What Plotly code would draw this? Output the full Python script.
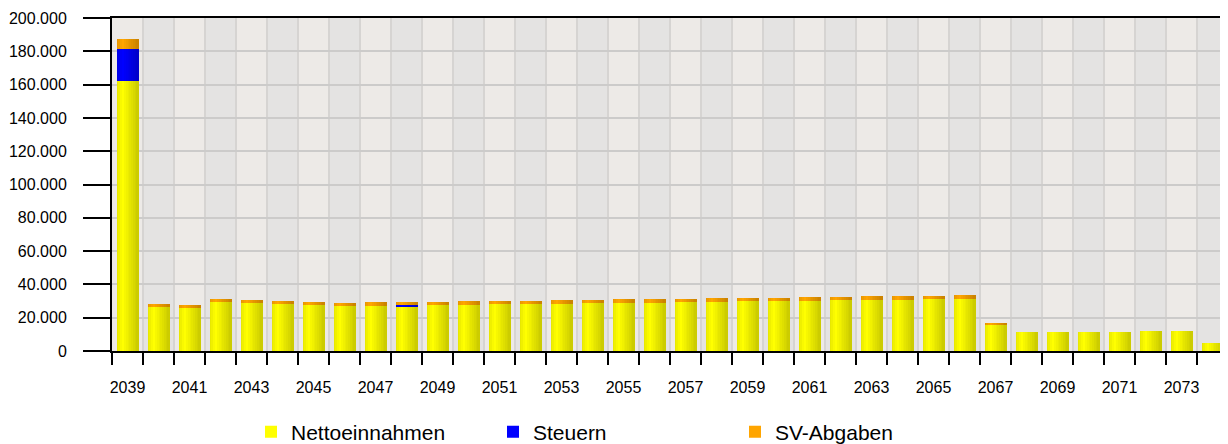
import plotly.graph_objects as go

years = list(range(2039, 2075))
netto = [162.2, 26.4, 25.8, 29.4, 28.8, 28.2, 27.6, 27.0, 27.0, 27.0, 27.6, 27.6,
         28.2, 28.2, 28.2, 28.8, 28.8, 28.8, 29.4, 29.4, 30.0, 30.0, 30.0, 30.6,
         30.6, 30.6, 31.2, 31.2, 15.6, 11.4, 11.4, 11.4, 11.4, 12.0, 12.0, 4.8]
steuern = [19.2, 0, 0, 0, 0, 0, 0, 0, 0, 0.5, 0, 0,
           0, 0, 0, 0, 0, 0, 0, 0, 0, 0, 0, 0,
           0, 0, 0, 0, 0, 0, 0, 0, 0, 0, 0, 0]
sv = [6.0, 1.8, 1.8, 1.8, 1.8, 1.8, 1.8, 1.8, 2.4, 1.9, 1.8, 2.4,
      1.8, 1.8, 2.4, 1.8, 2.4, 2.4, 1.8, 2.4, 1.8, 1.8, 2.4, 1.8,
      2.4, 2.4, 1.8, 2.4, 1.2, 0, 0, 0, 0, 0, 0, 0]
netto = [v * 1000 for v in netto]
steuern = [v * 1000 for v in steuern]
sv = [v * 1000 for v in sv]

ytick_vals = list(range(0, 200001, 20000))
ytick_text = [f"{v:,}".replace(",", ".") for v in ytick_vals]
xtick_vals = list(range(2039, 2075, 2))
xtick_text = [str(y) for y in xtick_vals]

base_netto = [0] * len(years)
base_steuern = netto
base_sv = [a + b for a, b in zip(netto, steuern)]

series = [
    ("Nettoeinnahmen", netto, base_netto, (255, 255, 0)),
    ("Steuern", steuern, base_steuern, (0, 0, 255)),
    ("SV-Abgaben", sv, base_sv, (255, 165, 0)),
]

BAR_W = 0.71
N_STRIPS = 12
PEAK = 3


def shade(rgb, t):
    # cylinder-like shading: slightly dark left edge, bright near 25%, darker right
    if t <= 0.25:
        f = 0.91 + (1.0 - 0.91) * (t / 0.25)
    else:
        f = 1.0 - (1.0 - 0.80) * ((t - 0.25) / 0.75)
    return "rgb(%d,%d,%d)" % tuple(round(c * f) for c in rgb)


fig = go.Figure()
for name, vals, base, rgb in series:
    for k in range(N_STRIPS):
        t = k / (N_STRIPS - 1)
        start = -BAR_W / 2 + k * BAR_W / N_STRIPS
        fig.add_trace(go.Bar(
            x=years, y=vals, base=base, name=name,
            offset=start, width=BAR_W / 2 - start,
            marker=dict(color=shade(rgb, t) if k != PEAK else "rgb(%d,%d,%d)" % rgb,
                        line=dict(width=0)),
            legendgroup=name, showlegend=(k == PEAK),
        ))

shapes = []
for i, yr in enumerate(years):
    if i % 2 == 1:
        shapes.append(dict(type="rect", xref="x", yref="paper",
                           x0=yr - 0.5, x1=yr + 0.5, y0=0, y1=1,
                           fillcolor="#E4E3E2", line=dict(width=0), layer="below"))

# page body has an 8px default margin, so the figure is 8px smaller
fig.update_layout(
    width=1220, height=436,
    margin=dict(l=104, r=0, t=10, b=93, autoexpand=False),
    paper_bgcolor="white", plot_bgcolor="#EDEAE7",
    barmode="overlay", bargap=0,
    font=dict(family="Liberation Sans, Arial, sans-serif", color="#000000"),
    shapes=shapes,
    showlegend=True,
    legend=dict(orientation="h", xref="paper", yref="paper",
                x=(251 - 112) / 1116, y=(351 - 432) / 333, xanchor="left", yanchor="middle",
                font=dict(size=21), entrywidth=197, entrywidthmode="pixels",
                traceorder="normal", bgcolor="rgba(0,0,0,0)"),
    xaxis=dict(range=[2038.5, 2074.5], tickvals=xtick_vals, ticktext=xtick_text,
               ticks="outside", ticklen=0, tickfont=dict(size=16),
               ticklabelstandoff=21, automargin=False,
               showgrid=False, zeroline=False,
               showline=True, linecolor="#000000", linewidth=2, mirror=True,
               minor=dict(tick0=2038.5, dtick=1, ticks="outside", ticklen=12,
                          tickcolor="#000000", tickwidth=2,
                          showgrid=True, gridcolor="#D6D4D2", gridwidth=2)),
    yaxis=dict(range=[0, 200000], tickvals=ytick_vals, ticktext=ytick_text,
               ticks="outside", ticklen=27, tickcolor="#000000", tickwidth=2,
               tickfont=dict(size=16), ticklabelstandoff=13, automargin=False,
               showgrid=True, gridcolor="#CCCBCA", gridwidth=2, zeroline=False,
               showline=True, linecolor="#000000", linewidth=2),
)

fig.write_html("out.html")
